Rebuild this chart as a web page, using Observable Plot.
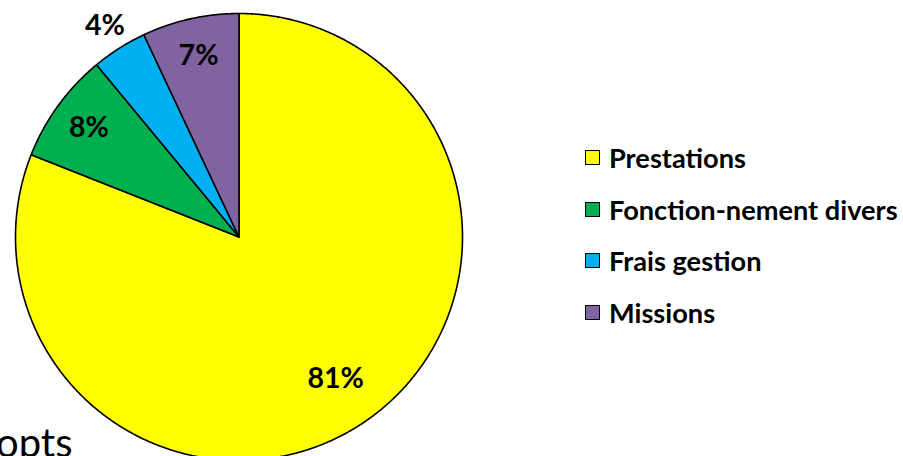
<!DOCTYPE html>
<html>
<head>
<meta charset="utf-8">
<script src="https://cdn.jsdelivr.net/npm/d3@7"></script>
<script src="https://cdn.jsdelivr.net/npm/@observablehq/plot@0.6"></script>
<style>
  html, body { margin: 0; padding: 0; background: #fff; }
  body { width: 903px; height: 456px; overflow: hidden; position: relative; font-family: Lato, "Open Sans", sans-serif; }
  #chart { position: absolute; left: 0; top: 0; }
  #legend { position: absolute; left: 585px; top: 132px; }
  .row { display: flex; align-items: center; height: 51.5px; margin-top: 0; }
  .sw { width: 13px; height: 13px; border: 1.5px solid #000; margin-right: 9px; box-sizing: content-box; }
  .lab { font-weight: 700; font-size: 27.2px; color: #000; white-space: nowrap; }
  #frag { position: absolute; left: -4px; top: 418px; font-family: Lato, sans-serif; font-size: 40px; color: #000; white-space: nowrap; }
</style>
</head>
<body>
<div id="chart"></div>
<div id="legend"></div>
<div id="frag">opts</div>
<script>
const categories = ["Prestations", "Fonction-nement divers", "Frais gestion", "Missions"];
const shares = [81, 8, 4, 7];
const colors = ["#FFFF00", "#00B050", "#00B0F0", "#8064A2"];
const labels = ["81%", "8%", "4%", "7%"];

const data = categories.map((c, i) => ({category: c, value: shares[i], color: colors[i], label: labels[i]}));
const arcs = d3.pie().sort(null).value(d => d.value)(data);

function wedge(a) {
  const pts = [{x: 0, y: 0}];
  const n = Math.max(4, Math.ceil((a.endAngle - a.startAngle) / 0.005));
  for (let k = 0; k <= n; k++) {
    const t = a.startAngle + (a.endAngle - a.startAngle) * k / n;
    pts.push({x: Math.sin(t), y: Math.cos(t)});
  }
  pts.push({x: 0, y: 0});
  return pts;
}

const labelData = arcs.map(a => {
  const m = (a.startAngle + a.endAngle) / 2;
  const v = a.data.value;
  const r = v < 5 ? 1.12 : v > 50 ? 0.77 : 0.83;
  return {x: r * Math.sin(m), y: r * Math.cos(m), text: a.data.label};
});

const chart = Plot.plot({
  width: 540,
  height: 456,
  margin: 0,
  style: {background: "white", overflow: "hidden"},
  x: {domain: [-1, 1], range: [15, 462], axis: null},
  y: {domain: [-1, 1], range: [460, 13], axis: null},
  marks: [
    ...arcs.map(a => Plot.line(wedge(a), {x: "x", y: "y", fill: a.data.color, stroke: "#000", strokeWidth: 1.6, strokeLinejoin: "round"})),
    Plot.text(labelData, {x: "x", y: "y", text: "text", fontSize: 28.5, fontWeight: "bold", fontFamily: "Lato", fill: "#000"})
  ]
});
document.getElementById("chart").appendChild(chart);

const legend = document.getElementById("legend");
data.forEach(d => {
  const row = document.createElement("div");
  row.className = "row";
  const sw = document.createElement("div");
  sw.className = "sw";
  sw.style.background = d.color;
  const lab = document.createElement("span");
  lab.className = "lab";
  lab.textContent = d.category;
  row.appendChild(sw);
  row.appendChild(lab);
  legend.appendChild(row);
});
</script>
</body>
</html>
